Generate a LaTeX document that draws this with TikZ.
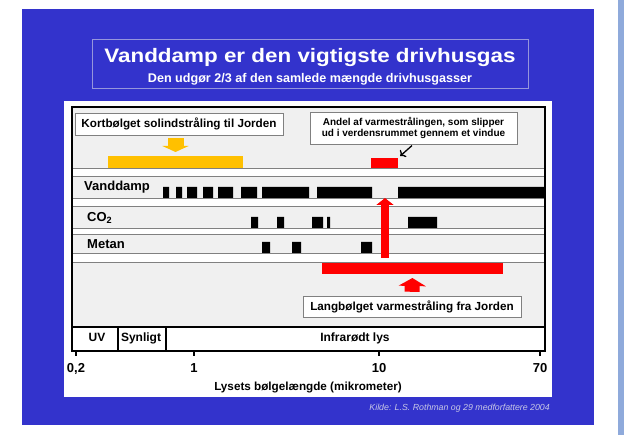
\documentclass[tikz,border=0pt]{standalone}
\usepackage{fontspec}
\setmainfont{Liberation Sans}
\newfontfamily\widefont[FakeStretch = 1.15]{Liberation Sans}
\usetikzlibrary{positioning}
\usetikzlibrary{arrows.meta}

\definecolor{slideblue}{RGB}{51, 51, 204}
\definecolor{stripblue}{RGB}{143, 170, 219}
\definecolor{titleline}{RGB}{150, 150, 220}
\definecolor{bandgrey}{RGB}{240, 240, 240}
\definecolor{sunyellow}{RGB}{255, 192, 0}
\definecolor{kildegrey}{RGB}{200, 200, 230}

\tikzset{
	labelbox/.style = {draw = gray, fill = white, inner sep = 0pt, font = \bfseries\fontsize{11.7}{13}\selectfont},
	rowlabel/.style = {anchor = west, inner sep = 0pt, font = \bfseries\fontsize{13}{15}\selectfont},
	bandlabel/.style = {anchor = base, inner sep = 0pt, font = \bfseries\fontsize{12}{14}\selectfont},
	ticklabel/.style = {anchor = base, inner sep = 0pt, font = \bfseries\fontsize{13}{15}\selectfont},
	bar/.style = {inner sep = 0pt, outer sep = 0pt},
	gridline/.style = {gray, line width = 0.8pt},
}

\begin{document}
\begin{tikzpicture}[x = 1pt, y = -1pt]
	\useasboundingbox (0, 0) rectangle (624, 435);
	\fill [white] (0, 0) rectangle (624, 435);
	\fill [stripblue] (618, 0) rectangle (624, 435);
	\fill [slideblue] (22, 9) rectangle (594, 425);

	\draw [titleline, line width = 0.8pt] (92, 39) rectangle (528, 88);
	\node [anchor = base, inner sep = 0pt, white, font = \widefont\bfseries\fontsize{19.5}{22}\selectfont] (title) at (310, 63) {Vanddamp er den vigtigste drivhusgas};
	\node [anchor = base, inner sep = 0pt, white, font = \bfseries\fontsize{12.6}{14}\selectfont] (subtitle) at (310, 83) {Den udgør 2/3 af den samlede mængde drivhusgasser};

	\fill [white] (64, 101) rectangle (552, 397);
	\fill [bandgrey] (72, 107) rectangle (545, 327);
	\fill [white] (72, 168) rectangle (545, 176) (72, 198) rectangle (545, 206) (72, 228) rectangle (545, 234) (72, 253) rectangle (545, 262);
	\draw [gridline] (72, 168) -- (545, 168) (72, 176) -- (545, 176) (72, 198) -- (545, 198) (72, 206) -- (545, 206);
	\draw [gridline] (72, 228) -- (545, 228) (72, 234) -- (545, 234) (72, 253) -- (545, 253) (72, 262) -- (545, 262);
	\fill [white] (72, 327) rectangle (545, 351);
	\draw [black, line width = 1.2pt] (72, 327) -- (545, 327);
	\draw [black, line width = 1.2pt] (118, 327) -- (118, 351) (166, 327) -- (166, 351);
	\draw [black, line width = 2pt] (72, 107) rectangle (545, 351);
	\draw [black, line width = 2pt] (76, 351) -- (76, 356) (194, 351) -- (194, 356) (379, 351) -- (379, 356) (540, 351) -- (540, 356);

	\fill [black] (163, 187) rectangle (169, 198) (176, 187) rectangle (182, 198) (187, 187) rectangle (197, 198) (203, 187) rectangle (213, 198) (218, 187) rectangle (233, 198);
	\fill [black] (241, 187) rectangle (257, 198) (262, 187) rectangle (309, 198) (317, 187) rectangle (372, 198) (398, 187) rectangle (545, 198);
	\fill [black] (251, 217) rectangle (258, 228) (277, 217) rectangle (284, 228) (312, 217) rectangle (323, 228) (327, 217) rectangle (330, 228) (408, 217) rectangle (437, 228);
	\fill [black] (262, 242) rectangle (270, 253) (292, 242) rectangle (301, 253) (361, 242) rectangle (372, 253);
	\coordinate (gap) at (385, 198);

	\node [rowlabel] (vanddamp) at (84, 187) {Vanddamp};
	\node [rowlabel] (co2) at (87, 218) {CO\textsubscript{2}};
	\node [rowlabel] (metan) at (87, 244) {Metan};

	\node [labelbox, minimum width = 208pt, minimum height = 22pt] (kort) at (179, 124) {Kortbølget solindstråling til Jorden};
	\node [labelbox, minimum width = 207pt, minimum height = 32pt, align = center, font = \bfseries\fontsize{10}{11}\selectfont] (andel) at (413.5, 128) {Andel af varmestrålingen, som slipper\\ud i verdensrummet gennem et vindue};
	\node [labelbox, minimum width = 218pt, minimum height = 21pt] (lang) at (412, 306.5) {Langbølget varmestråling fra Jorden};

	\node [bar, fill = sunyellow, minimum width = 135pt, minimum height = 12pt] (sunbar) at (175.5, 162) {};
	\node [bar, fill = red, minimum width = 27pt, minimum height = 10pt] (window) at (384.5, 163) {};
	\node [bar, fill = red, minimum width = 181pt, minimum height = 11pt] (earthbar) at (412.5, 268.5) {};

	\draw [sunyellow, line width = 16pt, shorten < = 3pt, shorten > = 4pt, -{Triangle[width = 26pt, length = 6pt]}] (sunbar.north |- kort.south) -- (sunbar.north);
	\draw [red, line width = 8pt, shorten < = 5pt, -{Triangle[width = 17pt, length = 7pt]}] (gap |- earthbar.north) -- (gap);
	\draw [red, line width = 15pt, shorten < = 4pt, shorten > = 4pt, -{Triangle[width = 27pt, length = 8pt]}] (lang.north) -- (earthbar.south);
	\draw [black, line width = 1.3pt, shorten < = 2pt, shorten > = 3pt, ->] (andel.south) -- (window.north east);

	\node [bandlabel] (uv) at (97, 341.5) {UV};
	\node [bandlabel] (synligt) at (141, 341.5) {Synligt};
	\node [bandlabel] (infrarod) at (355, 341.5) {Infrarødt lys};

	\node [ticklabel] (t02) at (76, 373) {0,2};
	\node [ticklabel] (t1) at (194, 373) {1};
	\node [ticklabel] (t10) at (379, 373) {10};
	\node [ticklabel] (t70) at (540, 373) {70};
	\node [anchor = base, inner sep = 0pt, font = \bfseries\fontsize{11.7}{14}\selectfont] (axistitle) at (308, 391) {Lysets bølgelængde (mikrometer)};

	\node [anchor = base east, inner sep = 0pt, kildegrey, font = \itshape\fontsize{8.8}{10}\selectfont] (kilde) at (550, 411) {Kilde: L.S. Rothman og 29 medforfattere 2004};
\end{tikzpicture}
\end{document}
